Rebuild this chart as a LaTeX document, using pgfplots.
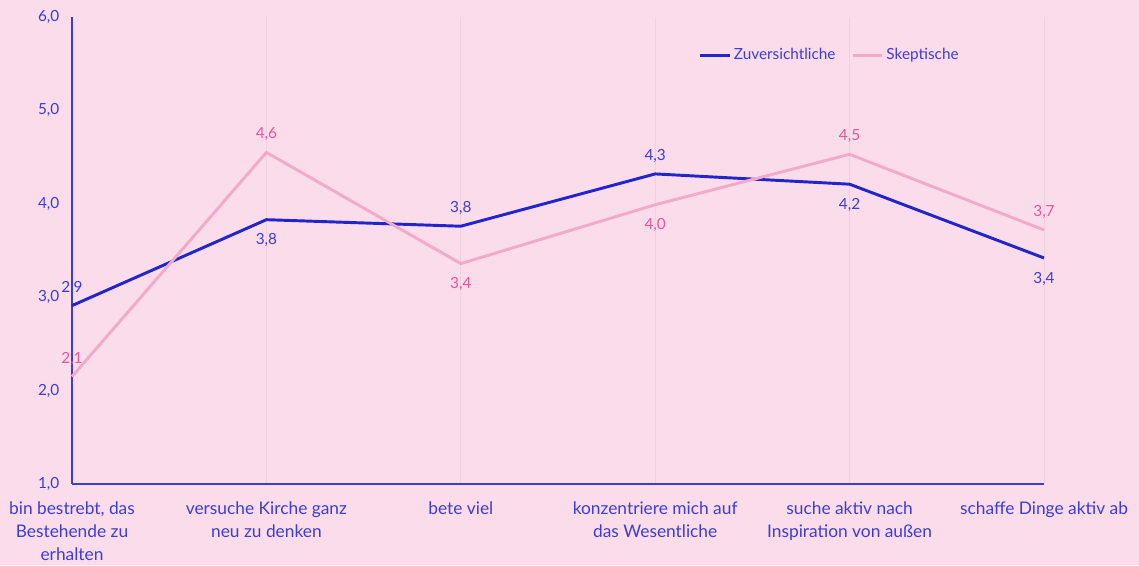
\documentclass[border=0pt]{standalone}
\usepackage{fontspec}
\setmainfont{Lato}
\usepackage{pgfplots}
\pgfplotsset{compat=1.18}
\definecolor{bg}{HTML}{FADCEB}
\definecolor{dblue}{HTML}{2424CC}
\definecolor{tblue}{HTML}{3D3DD2}
\definecolor{lpink}{HTML}{F2AACB}
\definecolor{tpink}{HTML}{E8559A}
\definecolor{gridc}{HTML}{F3D0E1}
\begin{document}
\begin{tikzpicture}[x=1pt,y=1pt]
\useasboundingbox (0,0) rectangle (854.25,423.75);
\fill[bg] (0,0) rectangle (854.25,423.75);
\begin{axis}[
  at={(54pt,60.75pt)}, anchor=south west,
  scale only axis, width=729pt, height=350.25pt,
  xmin=0, xmax=5, ymin=1, ymax=6,
  axis lines*=left, axis line style={-, tblue, line width=0.9pt},
  xtick={0,1,2,3,4,5},
  xticklabels={{bin bestrebt, das\\Bestehende zu\\erhalten},{versuche Kirche ganz\\neu zu denken},{bete viel},{konzentriere mich auf\\das Wesentliche},{suche aktiv nach\\Inspiration von außen},{schaffe Dinge aktiv ab}},
  xticklabel style={align=center, font=\fontsize{13}{17.2}\selectfont, text=tblue, yshift=-9.5pt},
  ytick={1,2,3,4,5,6},
  yticklabel style={font=\fontsize{11.5}{13}\selectfont, text=tblue, xshift=-6pt},
  /pgf/number format/.cd, fixed, fixed zerofill, precision=1, use comma, assume math mode=true,
  /pgfplots/.cd,
  major tick length=0pt,
  xmajorgrids, grid style={gridc, line width=0.6pt},
  clip=false,
  legend style={at={(0.78,0.918)}, anchor=center, draw=none, fill=none, font=\fontsize{11.5}{13}\selectfont, text=tblue, legend columns=2, /tikz/every even column/.append style={column sep=10pt}},
  legend image code/.code={\draw[#1, line width=2.2pt] (0pt,0pt) -- (22pt,0pt);},
]
\addplot[dblue, line width=2.2pt] coordinates {(0,2.91) (1,3.83) (2,3.76) (3,4.32) (4,4.21) (5,3.42)};
\addlegendentry{Zuversichtliche}
\addplot[lpink, line width=2.2pt] coordinates {(0,2.15) (1,4.55) (2,3.36) (3,3.99) (4,4.53) (5,3.72)};
\addlegendentry{Skeptische}
% labels blue above
\addplot[draw=none, forget plot, nodes near coords, point meta=explicit symbolic,
  every node near coord/.append style={text=tblue, anchor=south, yshift=5pt, font=\fontsize{11.5}{13}\selectfont}]
  table[meta=l] {x y l
0 2.91 {2,9}
2 3.76 {3,8}
3 4.32 {4,3}
};
% labels blue below
\addplot[draw=none, forget plot, nodes near coords, point meta=explicit symbolic,
  every node near coord/.append style={text=tblue, anchor=north, yshift=-7pt, font=\fontsize{11.5}{13}\selectfont}]
  table[meta=l] {x y l
1 3.83 {3,8}
4 4.21 {4,2}
5 3.42 {3,4}
};
% labels pink above
\addplot[draw=none, forget plot, nodes near coords, point meta=explicit symbolic,
  every node near coord/.append style={text=tpink, anchor=south, yshift=5pt, font=\fontsize{11.5}{13}\selectfont}]
  table[meta=l] {x y l
0 2.15 {2,1}
1 4.55 {4,6}
4 4.53 {4,5}
5 3.72 {3,7}
};
% labels pink below
\addplot[draw=none, forget plot, nodes near coords, point meta=explicit symbolic,
  every node near coord/.append style={text=tpink, anchor=north, yshift=-7pt, font=\fontsize{11.5}{13}\selectfont}]
  table[meta=l] {x y l
2 3.36 {3,4}
3 3.99 {4,0}
};
\end{axis}
\end{tikzpicture}
\end{document}
